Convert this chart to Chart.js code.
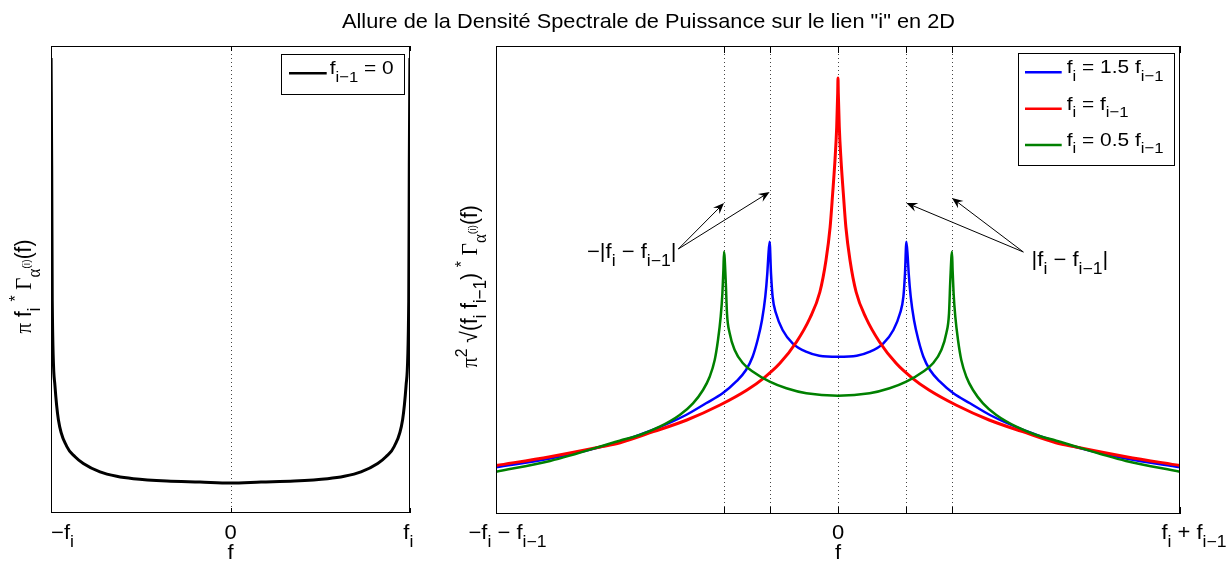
<!DOCTYPE html>
<html>
<head>
<meta charset="utf-8">
<script src="https://cdn.jsdelivr.net/npm/chart.js@4.4.1/dist/chart.umd.min.js"></script>
<style>
  html, body { margin: 0; padding: 0; background: #fff; }
  #wrap { position: relative; width: 1228px; height: 561px; }
  canvas { position: absolute; left: 0; top: 0; }
</style>
</head>
<body>
<div id="wrap">
  <canvas id="leftChart" width="1228" height="561"></canvas>
  <canvas id="rightChart" width="1228" height="561"></canvas>
</div>
<script>
// Left panel: f_{i-1} = 0  (x normalised on [-f_i, f_i])
const blackX = [-0.9995, -0.996, -0.993, -0.978, -0.959, -0.912, -0.866, -0.820, -0.727, -0.634, -0.541, -0.355, -0.170, 0,
                0.170, 0.355, 0.541, 0.634, 0.727, 0.820, 0.866, 0.912, 0.959, 0.978, 0.993, 0.996, 0.9995];
const blackY = [455, 347.5, 212, 127.4, 93.6, 66.5, 56.3, 49.5, 41.1, 36.7, 34.3, 32, 31, 30,
                31, 32, 34.3, 36.7, 41.1, 49.5, 56.3, 66.5, 93.6, 127.4, 212, 347.5, 455];

// Right panel (x normalised on [-f_i - f_{i-1}, f_i + f_{i-1}])
const blueX = [-1, -0.842, -0.6395, -0.542, -0.4444, -0.386, -0.3374, -0.2982, -0.269, -0.2497, -0.2351, -0.2222,
               -0.2126, -0.2067, -0.2038, -0.2, -0.1959, -0.1912, -0.1813, -0.162, -0.1327, -0.0936, -0.0547, 0,
               0.0547, 0.0936, 0.1327, 0.162, 0.1813, 0.1912, 0.1959, 0.2, 0.2038, 0.2067, 0.2126,
               0.2222, 0.2351, 0.2497, 0.269, 0.2982, 0.3374, 0.386, 0.4444, 0.542, 0.6395, 0.842, 1];
const blueY = [46.7, 55.5, 72.3, 84, 99, 110.7, 120.7, 132.3, 144, 157.3, 174, 194,
               217.3, 240.7, 257.3, 272.3, 240.7, 217.3, 200.7, 184, 170.7, 162.3, 158.3, 157.3,
               158.3, 162.3, 170.7, 184, 200.7, 217.3, 240.7, 272.3, 257.3, 240.7, 217.3,
               194, 174, 157.3, 144, 132.3, 120.7, 110.7, 99, 84, 72.3, 55.5, 46.7];

const redX = [-1, -0.842, -0.696, -0.637, -0.540, -0.442, -0.345, -0.266, -0.218, -0.170, -0.121, -0.082, -0.053,
              -0.035, -0.023, -0.0155, -0.0088, -0.0038, -0.0009, 0, 0.0009, 0.0038, 0.0088, 0.0155, 0.023,
              0.035, 0.053, 0.082, 0.121, 0.170, 0.218, 0.266, 0.345, 0.442, 0.540, 0.637, 0.696, 0.842, 1];
const redY = [48.5, 57.3, 67, 71.3, 82.3, 94, 109, 124, 135.7, 150.7, 172.3, 196, 222,
              254, 287, 321, 354, 387, 421, 436, 421, 387, 354, 321, 287,
              254, 222, 196, 172.3, 150.7, 135.7, 124, 109, 94, 82.3, 71.3, 67, 57.3, 48.5];

const greenX = [-1, -0.842, -0.6383, -0.5798, -0.5213, -0.4629, -0.424, -0.3947, -0.3752, -0.3605, -0.3509, -0.343,
                -0.338, -0.3351, -1 / 3, -0.3284, -0.3246, -0.3167, -0.3021, -0.2778, -0.2485, -0.1997, -0.1509,
                -0.0924, 0, 0.0924, 0.1509, 0.1997, 0.2485, 0.2778, 0.3021, 0.3167, 0.3246, 0.3284, 1 / 3,
                0.3351, 0.338, 0.343, 0.3509, 0.3605, 0.3752, 0.3947, 0.424, 0.4629, 0.5213, 0.5798, 0.6383, 0.842, 1];
const greenY = [42.3, 53, 73.3, 79, 87.3, 99, 110.7, 124, 137.3, 154, 174, 197.3,
                220.7, 244, 262.3, 234, 200.7, 180.7, 164, 150.7, 142.3, 132.3, 125.7,
                120.7, 118.3, 120.7, 125.7, 132.3, 142.3, 150.7, 164, 180.7, 200.7, 234, 262.3,
                244, 220.7, 197.3, 174, 154, 137.3, 124, 110.7, 99, 87.3, 79, 73.3, 53, 42.3];

// Ticks and dotted grid positions
const leftTickValues = [-1, 0, 1];
const leftGridValues = [0];
const rightTickValues = [-1, -1 / 3, -0.2, 0, 0.2, 1 / 3, 1];
const rightGridValues = [-1 / 3, -0.2, 0, 0.2, 1 / 3];

// Tick labels as rich text runs: [text, kind, serif]
const leftTickLabels = [[['−f'], ['i', 'b']], [['0']], [['f'], ['i', 'b']]];
const rightTickLabels = [[['−f'], ['i', 'b'], [' − f'], ['i−1', 'b']], null, null, [['0']], null, null,
                         [['f'], ['i', 'b'], [' + f'], ['i−1', 'b']]];

const SANS = '"Liberation Sans", Arial, Helvetica, sans-serif';
const SERIF = '"Liberation Serif", "DejaVu Serif", serif';
const STRETCH = 1.1;
const KIND = { n: [1, 0], b: [0.8, 0.38], p: [0.75, -0.42], bp: [0.5, -0.05] };
const FONT_TICK = 20, FONT_LABEL = 20, FONT_Y = 21, FONT_LEG = 19, FONT_NOTE = 20, FONT_TITLE = 19.8;

function runFont(r, size) {
    const k = KIND[r[1] || 'n'];
    return (size * k[0]).toFixed(1) + 'px ' + (r[2] ? SERIF : SANS);
}

function richWidth(ctx, runs, size) {
    let w = 0;
    runs.forEach(r => { ctx.font = runFont(r, size); w += ctx.measureText(r[0]).width; });
    return w;
}

function drawRich(ctx, runs, x, y, size, align, rotated) {
    ctx.save();
    ctx.translate(x, y);
    ctx.scale(STRETCH, 1);
    if (rotated) ctx.rotate(-Math.PI / 2);
    const w = richWidth(ctx, runs, size);
    let cx = align === 'center' ? -w / 2 : (align === 'right' ? -w : 0);
    ctx.fillStyle = '#000';
    ctx.textAlign = 'left';
    ctx.textBaseline = 'alphabetic';
    runs.forEach(r => {
        const k = KIND[r[1] || 'n'];
        ctx.font = runFont(r, size);
        ctx.fillText(r[0], cx, k[1] * size);
        cx += ctx.measureText(r[0]).width;
    });
    ctx.restore();
}

function drawArrow(ctx, x0, y0, x1, y1) {
    const ang = Math.atan2(y1 - y0, x1 - x0);
    const c = Math.cos(ang), s = Math.sin(ang);
    const L = 11, W = 4.5;
    ctx.beginPath();
    ctx.moveTo(x0, y0);
    ctx.lineTo(x1 - c * L * 0.6, y1 - s * L * 0.6);
    ctx.stroke();
    const bx = x1 - c * L, by = y1 - s * L;
    ctx.beginPath();
    ctx.moveTo(x1, y1);
    ctx.lineTo(bx - s * W, by + c * W);
    ctx.lineTo(x1 - c * L * 0.65, y1 - s * L * 0.65);
    ctx.lineTo(bx + s * W, by - c * W);
    ctx.closePath();
    ctx.fill();
}

function makeDeco(cfg) {
    return {
        id: 'deco',
        beforeDatasetsDraw(chart) {
            const { ctx, chartArea: a, scales: { x } } = chart;
            ctx.save();
            ctx.strokeStyle = '#444';
            ctx.lineWidth = 1;
            ctx.setLineDash([1, 3]);
            cfg.grid.forEach(v => {
                const px = Math.round(x.getPixelForValue(v)) + 0.5;
                ctx.beginPath();
                ctx.moveTo(px, a.top);
                ctx.lineTo(px, a.bottom);
                ctx.stroke();
            });
            ctx.restore();
        },
        afterDatasetsDraw(chart) {
            const { ctx, chartArea: a, scales: { x, y } } = chart;
            ctx.save();
            ctx.strokeStyle = '#000';
            ctx.fillStyle = '#000';
            ctx.lineWidth = 1;

            // axes box
            ctx.strokeRect(a.left + 0.5, a.top + 0.5, a.right - a.left - 1, a.bottom - a.top - 1);

            // inward tick marks, bottom and top
            cfg.ticks.forEach(v => {
                const px = Math.round(x.getPixelForValue(v)) + 0.5;
                ctx.beginPath();
                ctx.moveTo(px, a.bottom);
                ctx.lineTo(px, a.bottom - cfg.tickLen);
                ctx.moveTo(px, a.top);
                ctx.lineTo(px, a.top + cfg.tickLen);
                ctx.stroke();
            });

            // tick labels
            cfg.ticks.forEach((v, i) => {
                const lab = cfg.tickLabels[i];
                if (!lab) return;
                drawRich(ctx, lab, x.getPixelForValue(v) + cfg.tickNudge[i], 539, FONT_TICK, 'center');
            });

            // axis titles
            drawRich(ctx, [['f']], x.getPixelForValue(0), 559, FONT_LABEL, 'center');
            drawRich(ctx, cfg.yTitle, cfg.yTitleX, 286.5, FONT_Y, 'center', true);

            // annotations (in data coordinates)
            (cfg.notes || []).forEach(n => {
                drawRich(ctx, n.runs, x.getPixelForValue(n.x), y.getPixelForValue(n.y), FONT_NOTE, 'left');
            });
            ctx.lineWidth = 1;
            (cfg.arrows || []).forEach(ar => {
                drawArrow(ctx, x.getPixelForValue(ar.from[0]), y.getPixelForValue(ar.from[1]),
                          x.getPixelForValue(ar.to[0]), y.getPixelForValue(ar.to[1]));
            });

            // legend box, top right
            const lg = cfg.legend;
            const L = a.right - lg.right - lg.w, T = a.top + lg.top;
            ctx.fillStyle = '#fff';
            ctx.fillRect(L, T, lg.w, lg.h);
            ctx.strokeStyle = '#000';
            ctx.lineWidth = 1;
            ctx.strokeRect(Math.round(L) + 0.5, Math.round(T) + 0.5, Math.round(lg.w), Math.round(lg.h));
            lg.items.forEach((it, i) => {
                const ry = T + 19.6 + i * 36.4;
                ctx.strokeStyle = it.color;
                ctx.lineWidth = it.width;
                ctx.beginPath();
                ctx.moveTo(L + lg.lineFrom, ry);
                ctx.lineTo(L + lg.lineTo, ry);
                ctx.stroke();
                drawRich(ctx, it.runs, L + 49, ry + 1, FONT_LEG, 'left');
            });

            if (cfg.title) {
                drawRich(ctx, [[cfg.title]], 648.5, 28, FONT_TITLE, 'center');
            }
            ctx.restore();
        }
    };
}

function lineDataset(xs, ys, color, width, order) {
    return {
        data: xs.map((v, i) => ({ x: v, y: ys[i] })),
        borderColor: color,
        borderWidth: width,
        pointRadius: 0,
        fill: false,
        cubicInterpolationMode: 'monotone',
        order: order
    };
}

function baseOptions(pad, yMax) {
    const axis = (min, max) => ({
        type: 'linear', min: min, max: max,
        ticks: { display: false },
        grid: { display: false, drawTicks: false },
        border: { display: false }
    });
    return {
        responsive: false,
        animation: false,
        devicePixelRatio: 1,
        events: [],
        layout: { padding: pad },
        plugins: { legend: { display: false }, tooltip: { enabled: false } },
        scales: { x: axis(-1, 1), y: axis(0, yMax) }
    };
}

new Chart(document.getElementById('leftChart'), {
    type: 'line',
    data: { datasets: [lineDataset(blackX, blackY, '#000', 3, 1)] },
    options: baseOptions({ left: 51, top: 46, right: 818, bottom: 48 }, 467),
    plugins: [makeDeco({
        grid: leftGridValues,
        ticks: leftTickValues,
        tickLabels: leftTickLabels,
        tickNudge: [11.5, 0, -1.7],
        tickLen: 5,
        yTitleX: 31,
        yTitle: [['π', 'n', 1], [' f'], ['i', 'b'], [' '], ['*', 'p'], [' '], ['Γ', 'n', 1], ['α', 'b', 1], ['(i)', 'bp'], ['(f)']],
        legend: {
            right: 6.7, top: 7.7, w: 122.6, h: 40, lineFrom: 8.3, lineTo: 46,
            items: [{ color: '#000', width: 2.5, runs: [['f'], ['i−1', 'b'], [' = 0']] }]
        },
        title: 'Allure de la Densité Spectrale de Puissance sur le lien "i" en 2D'
    })]
});

new Chart(document.getElementById('rightChart'), {
    type: 'line',
    data: {
        datasets: [
            lineDataset(blueX, blueY, '#0000ff', 2.5, 3),
            lineDataset(redX, redY, '#ff0000', 3, 2),
            lineDataset(greenX, greenY, '#008000', 2.5, 1)
        ]
    },
    options: baseOptions({ left: 496, top: 46, right: 48, bottom: 47 }, 468),
    plugins: [makeDeco({
        grid: rightGridValues,
        ticks: rightTickValues,
        tickLabels: rightTickLabels,
        tickNudge: [11.5, 0, 0, 0, 0, 0, 14],
        tickLen: 7,
        yTitleX: 477,
        yTitle: [['π', 'n', 1], ['2', 'p'], [' √(f'], ['i', 'b'], [' f'], ['i−1', 'b'], [')'], [' '], ['*', 'p'], [' '],
                 ['Γ', 'n', 1], ['α', 'b', 1], ['(i)', 'bp'], ['(f)']],
        notes: [
            { x: -0.734, y: 256, runs: [['−|f'], ['i', 'b'], [' − f'], ['i−1', 'b'], ['|']] },
            { x: 0.566, y: 248, runs: [['|f'], ['i', 'b'], [' − f'], ['i−1', 'b'], ['|']] }
        ],
        arrows: [
            { from: [-0.467, 265], to: [-1 / 3, 311] },
            { from: [-0.467, 265], to: [-0.2, 322] },
            { from: [0.542, 262], to: [0.2, 311] },
            { from: [0.542, 262], to: [1 / 3, 316] }
        ],
        legend: {
            right: 6.7, top: 6.7, w: 155.6, h: 112.3, lineFrom: 7.3, lineTo: 44,
            items: [
                { color: '#0000ff', width: 2.5, runs: [['f'], ['i', 'b'], [' = 1.5 f'], ['i−1', 'b']] },
                { color: '#ff0000', width: 2.5, runs: [['f'], ['i', 'b'], [' = f'], ['i−1', 'b']] },
                { color: '#008000', width: 2.5, runs: [['f'], ['i', 'b'], [' = 0.5 f'], ['i−1', 'b']] }
            ]
        }
    })]
});
</script>
</body>
</html>
